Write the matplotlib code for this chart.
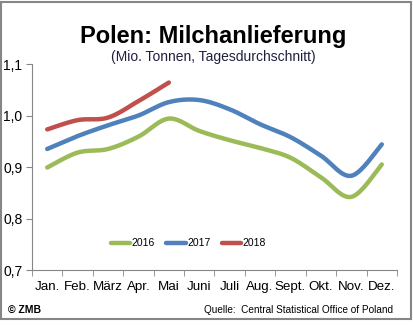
import numpy as np
import matplotlib
matplotlib.use('Agg')
import matplotlib.pyplot as plt
from matplotlib.patches import Rectangle

plt.rcParams['font.family'] = ['Liberation Sans', 'DejaVu Sans']

# monthly values (Mio. t per day)
months = ['Jan.', 'Feb.', 'März', 'Apr.', 'Mai', 'Juni', 'Juli', 'Aug.', 'Sept.', 'Okt.', 'Nov.', 'Dez.']
y2016 = [0.899, 0.928, 0.935, 0.959, 0.994, 0.970, 0.952, 0.937, 0.918, 0.880, 0.842, 0.905]
y2017 = [0.935, 0.960, 0.981, 1.000, 1.026, 1.030, 1.012, 0.983, 0.958, 0.922, 0.883, 0.944]
y2018 = [0.973, 0.991, 0.996, 1.028, 1.064]

colors = {'2016': '#9bbb59', '2017': '#4f81bd', '2018': '#c0504d'}


def smooth(x, y, n=20):
    # Excel-style smoothed line (cardinal spline through the points)
    x = np.asarray(x, float); y = np.asarray(y, float)
    px = np.concatenate([[x[0]], x, [x[-1]]])
    py = np.concatenate([[y[0]], y, [y[-1]]])
    xs, ys = [], []
    t = np.linspace(0, 1, n)
    for i in range(1, len(px) - 2):
        p0, p1, p2, p3 = px[i-1], px[i], px[i+1], px[i+2]
        q0, q1, q2, q3 = py[i-1], py[i], py[i+1], py[i+2]
        c1x = p1 + (p2 - p0) / 6; c1y = q1 + (q2 - q0) / 6
        c2x = p2 - (p3 - p1) / 6; c2y = q2 - (q3 - q1) / 6
        bx = (1-t)**3*p1 + 3*(1-t)**2*t*c1x + 3*(1-t)*t**2*c2x + t**3*p2
        by = (1-t)**3*q1 + 3*(1-t)**2*t*c1y + 3*(1-t)*t**2*c2y + t**3*q2
        xs.extend(bx); ys.extend(by)
    return xs, ys


fig = plt.figure(figsize=(4.14, 3.25), dpi=100)
ax = fig.add_axes([32/414, 55/325, 365/414, 206/325])

for lab, vals in [('2016', y2016), ('2017', y2017), ('2018', y2018)]:
    xs, ys = smooth(np.arange(len(vals)), vals)
    ax.plot(xs, ys, color=colors[lab], lw=3.2, solid_capstyle='round', label=lab)

ax.set_xlim(-0.5, 11.5)
ax.set_ylim(0.7, 1.1)
ax.set_yticks([0.7, 0.8, 0.9, 1.0, 1.1])
ax.set_yticklabels(['0,7', '0,8', '0,9', '1,0', '1,1'], fontsize=10)
ax.set_xticks(np.arange(12))
ax.set_xticklabels(months, fontsize=9.6)
ax.set_xticks(np.arange(-0.5, 12, 1), minor=True)
ax.tick_params(axis='x', which='major', length=0, pad=8)
ax.tick_params(axis='x', which='minor', length=4, color='#868686', direction='out')
ax.tick_params(axis='y', length=4, color='#868686', direction='out', pad=3)
for s in ['top', 'right']:
    ax.spines[s].set_visible(False)
for s in ['left', 'bottom']:
    ax.spines[s].set_color('#868686')

leg = ax.legend(loc='center', bbox_to_anchor=(0.428, 0.13), ncol=3, frameon=False,
                fontsize=7.5, handlelength=1.9, handletextpad=0.1, columnspacing=1.1)

fig.text(0.515, 0.888, 'Polen: Milchanlieferung', ha='center', va='center',
         fontsize=17, fontweight='bold')
fig.text(0.515, 0.825, '(Mio. Tonnen, Tagesdurchschnitt)', ha='center', va='center',
         fontsize=10, color='#1f1f3f')
fig.text(8/414, 1 - 310/325, '© ZMB', ha='left', va='center', fontsize=7.5, fontweight='bold')
fig.text(393/414, 1 - 310/325, 'Quelle:  Central Statistical Office of Poland', ha='right',
         va='center', fontsize=7.2)

fig.patches.append(Rectangle((1/414, 1 - 319/325), 410/414, 317/325, transform=fig.transFigure,
                             fill=False, edgecolor='#868686', lw=1.5))

fig.savefig('out.png', dpi=100)
